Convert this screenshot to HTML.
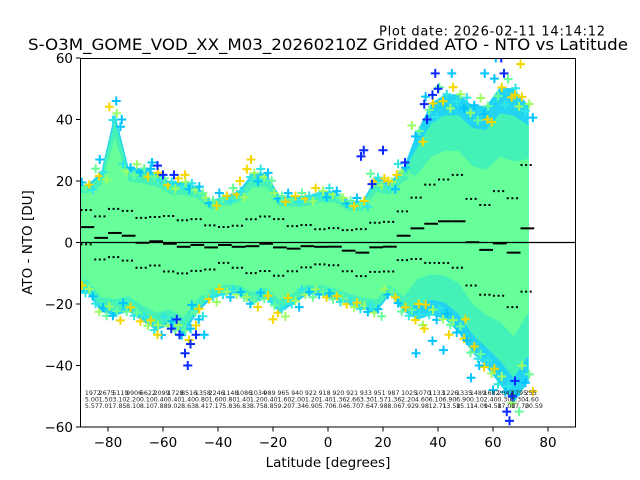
<!DOCTYPE html>
<html><head><meta charset="utf-8"><style>
html,body{margin:0;padding:0;background:#fff}
svg{display:block;font-family:"DejaVu Sans","Liberation Sans",sans-serif}
</style></head><body>
<svg id="chart" width="640" height="480" viewBox="0 0 640 480">
<defs><clipPath id="plotclip"><rect x="80.5" y="58.5" width="495" height="368.5"/></clipPath></defs>
<text x="605" y="35.5" font-size="13" text-anchor="end" textLength="226">Plot date: 2026-02-11 14:14:12</text>
<text x="328" y="50" font-size="16" text-anchor="middle" textLength="600" lengthAdjust="spacingAndGlyphs">S-O3M_GOME_VOD_XX_M03_20260210Z Gridded ATO - NTO vs Latitude</text>
<g id="data" clip-path="url(#plotclip)"></g>
<g id="axes"></g>
<text x="328" y="467" font-size="13.5" text-anchor="middle">Latitude [degrees]</text>
<text x="32" y="242.5" font-size="13.5" text-anchor="middle" transform="rotate(-90 32 242.5)">ATO - NTO [DU]</text>
</svg>
<script>
const binCenters=[-87.5,-82.5,-77.5,-72.5,-67.5,-62.5,-57.5,-52.5,-47.5,-42.5,-37.5,-32.5,-27.5,-22.5,-17.5,-12.5,-7.5,-2.5,2.5,7.5,12.5,17.5,22.5,27.5,32.5,37.5,42.5,47.5,52.5,57.5,62.5,67.5,72.5];
const binMeans=[5.0,1.5,3.1,2.2,-0.1,0.4,-0.4,-1.4,-0.8,-1.6,-0.8,-1.4,-1.2,-0.4,-1.6,-2.0,-1.2,-1.4,-1.36,-2.66,-3.3,-1.57,-1.36,2.2,4.6,6.1,6.9,6.9,0.1,-2.4,-0.3,-3.3,4.6];
const binStds=[5.57,7.01,7.85,8.10,8.10,7.88,9.02,8.63,8.41,7.17,5.83,6.83,8.75,8.85,9.20,7.34,6.90,5.70,6.04,6.70,7.64,7.98,8.06,7.92,9.98,12.71,13.58,15.11,14.09,14.58,17.0,17.7,20.59];
const binCounts=[1972,2675,5119,9906,6622,2099,1728,8516,1358,2246,1148,1086,1034,989,965,940,922,918,920,921,933,951,987,1025,1070,1133,1226,1335,1489,1682,2042,1795,255];
const envTop=[20.3,25.2,46.3,26.8,26.8,25.2,22,22,20.3,15.4,17,18.7,25.2,25.2,17,17,17,18.7,18.7,15.4,15.4,23.6,22,26.8,39.8,49.6,52.8,52.8,49.6,49.6,56.1,56.1,49.6];
const envBot=[-18.7,-25.2,-26.8,-25.2,-28.5,-31.7,-30,-33.3,-25.2,-20.3,-18.7,-18.7,-22,-20.3,-25.2,-22,-18.7,-18.7,-20.3,-22,-23.6,-25.2,-18.7,-25.2,-28.5,-26.8,-28.5,-33.3,-39.8,-44.7,-51.2,-57.7,-51.2];
const outLat=[-52,-51,-50,-54,-48,-57,-55,-62,-60,-56,35,39,40,38,36,63,64,65,66,67,68,12,13,16,20,28,-77,-75,-83,-64,-45,-50,-47,32,38,42,55,52,60,57,61,45,-62,-52,-28,-32,-20,-48,33,35,44,50,22,25,70,68,58];
const outVal=[-36,-40,-33,-30,-30,-28,-25,25,22,22,45,55,50,48,40,60,55,-55,-58,-50,-45,28,30,19,30,26,46,40,27,26,-30,-28,-25,-36,-32,-35,-40,-44,-48,55,60,55,-30,22,27,20,-25,-27,-20,-28,-30,-25,20,22,58,48,40];
const outKind=[0,0,0,0,0,0,0,0,0,0,0,0,0,0,0,0,0,0,0,0,0,0,0,0,0,0,1,1,1,1,1,1,1,1,1,1,1,1,1,1,1,1,2,2,2,2,2,2,2,2,2,2,2,2,2,2,2];
const yTicks=[60,40,20,0,-20,-40,-60];
const xTicks=[-80,-60,-40,-20,0,20,40,60,80];

const NS='http://www.w3.org/2000/svg';
const X=lat=>80.5+(lat+90)*2.75;
const Y=v=>242.5-v*3.075;
const colors=['#0a28ff','#00c4ff','#f5d800'];
const edgeColors=['#00c4ff','#66ff99','#f5d800','#2fe6e6','#9cff66'];
function mk(tag,attrs,parent){const e=document.createElementNS(NS,tag);for(const k in attrs)e.setAttribute(k,attrs[k]);parent.appendChild(e);return e;}
const gd=document.getElementById('data');
const ga=document.getElementById('axes');

function band(top,bot,fill,name){
  let pts=[];
  pts.push([X(binCenters[0]-2.5),Y(top[0])]);
  binCenters.forEach((c,i)=>pts.push([X(c),Y(top[i])]));
  pts.push([X(binCenters[binCenters.length-1]+0.5),Y(top[top.length-1])]);
  pts.push([X(binCenters[binCenters.length-1]+0.5),Y(bot[bot.length-1])]);
  for(let i=binCenters.length-1;i>=0;i--)pts.push([X(binCenters[i]),Y(bot[i])]);
  pts.push([X(binCenters[0]-2.5),Y(bot[0])]);
  const p=mk('polygon',{points:pts.map(q=>q.join(',')).join(' '),fill:fill},gd);
  
  
}
const north=c=>c>28;
band(envTop.map((t,i)=>binMeans[i]+(t-binMeans[i])*0.9),envBot.map((b,i)=>binMeans[i]+(b-binMeans[i])*0.9),'#22d4f2','outer-envelope');
band(envTop.map((t,i)=>binMeans[i]+(t-binMeans[i])*(north(binCenters[i])?0.75:0.85)),envBot.map((b,i)=>binMeans[i]+(b-binMeans[i])*(north(binCenters[i])?0.75:0.85)),'#44f2b8','middle-envelope');
band(envTop.map((t,i)=>binMeans[i]+(t-binMeans[i])*(north(binCenters[i])?0.5:0.72)),envBot.map((b,i)=>binMeans[i]+(b-binMeans[i])*(north(binCenters[i])?0.5:0.72)),'#66ff99','core-envelope');

function plus(x,y,col){
  return mk('path',{d:`M${x-4.5},${y}H${x+4.5}M${x},${y-4.5}V${y+4.5}`,stroke:col,'stroke-width':2,fill:'none'},gd);
}
binCenters.forEach((c,i)=>{
  [-2,-0.7,0.7,2].forEach((d,k)=>{
    const f=[0.95,0.85,0.9,0.8][k];
    const col=edgeColors[(i+k)%edgeColors.length];
    const t=plus(X(c+d),Y(binMeans[i]+(envTop[i]-binMeans[i])*f),col);
    
    
    const b=plus(X(c+d),Y(binMeans[i]+(envBot[i]-binMeans[i])*(1.75-f)),edgeColors[(i+k+2)%edgeColors.length]);
    
    
  });
});
outLat.forEach((lat,i)=>{
  const m=plus(X(lat),Y(outVal[i]),colors[outKind[i]]);
  
  
});
const z=mk('line',{x1:80.5,x2:575.5,y1:Y(0),y2:Y(0),stroke:'#000','stroke-width':1.2},gd);


binCenters.forEach((c,i)=>{
  const x1=X(c-2.5),x2=X(c+2.5);
  const m=mk('line',{x1:x1,x2:x2,y1:Y(binMeans[i]),y2:Y(binMeans[i]),stroke:'#000','stroke-width':2},gd);
  
  
  [1,-1].forEach(s=>{
    const v=binMeans[i]+s*binStds[i];
    const d=mk('line',{x1:x1,x2:x2,y1:Y(v),y2:Y(v),stroke:'#000','stroke-width':2,'stroke-dasharray':'2 2.6'},gd);
    
    
  });
  const rows=[String(binCounts[i]),Math.abs(binMeans[i]).toFixed(2),binStds[i].toFixed(2)];
  rows.forEach((r,k)=>{
    const t=mk('text',{x:X(c)-2.5,y:395+k*6.5,'font-size':6.3,fill:'#222'},gd);
    t.textContent=r;
    
    
  });
});
const fr=mk('rect',{x:80.5,y:58.5,width:495,height:368.5,fill:'none',stroke:'#000','stroke-width':1},ga);


yTicks.forEach(v=>{
  const l=mk('line',{x1:76,x2:80.5,y1:Y(v),y2:Y(v),stroke:'#000','stroke-width':1},ga);
  
  
  const t=mk('text',{x:73,y:Y(v)+5,'font-size':13.5,'text-anchor':'end'},ga);
  t.textContent=v<0?'\u2212'+(-v):String(v);
  
  
});
xTicks.forEach(v=>{
  const l=mk('line',{x1:X(v),x2:X(v),y1:427,y2:431.5,stroke:'#000','stroke-width':1},ga);
  
  
  const t=mk('text',{x:X(v),y:447,'font-size':13.5,'text-anchor':'middle'},ga);
  t.textContent=v<0?'\u2212'+(-v):String(v);
  
  
});
</script>
</body></html>
